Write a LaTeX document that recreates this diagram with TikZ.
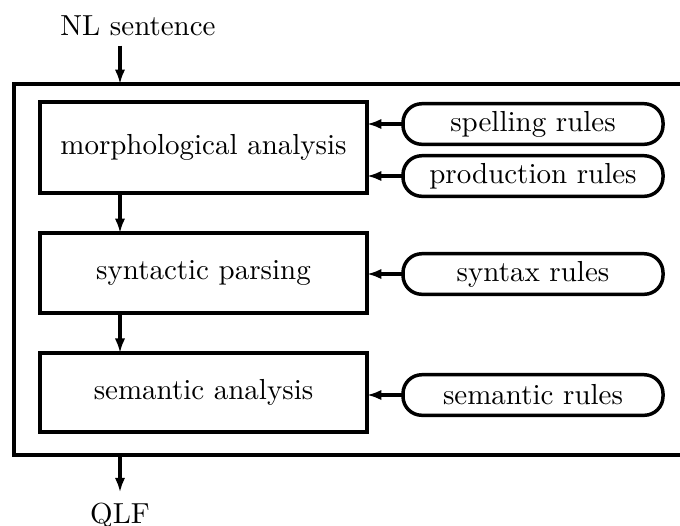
\documentclass[tikz,border=0pt]{standalone}
\usetikzlibrary{arrows.meta}
\usetikzlibrary{calc}

\tikzset{
    etape/.style={draw, line width=1.2pt, inner sep=0pt, outer sep=0pt,
        minimum width=112.8pt},
    regles/.style={draw, line width=1.2pt, rounded corners=6.5pt, inner sep=0pt,
        outer sep=0pt, minimum width=89.7pt, minimum height=14pt},
    fleche/.style={line width=1.2pt, -{Latex[length=5pt,width=3.6pt]}}
}

\begin{document}
\begin{tikzpicture}[x=0.345pt, y=-0.345pt]
            \useasboundingbox (0,0) rectangle (680,525);
            \coordinate (entree) at (120,84);
            \coordinate (sortie) at (120,455);
            \draw[line width=1.2pt] (14,84) rectangle (700,455);
            \node[anchor=base] (nl) at (138,35) {NL sentence};
            \node[anchor=base] (qlf) at (120,523) {QLF};
            \node[etape, minimum height=31.4pt] (morph) at (203.5,147.5) {morphological analysis};
            \node[etape, minimum height=27.6pt] (synt) at (203.5,273) {syntactic parsing};
            \node[etape, minimum height=27.3pt] (sema) at (203.5,392.5) {semantic analysis};
            \node[regles] (spell) at (533,124) {spelling rules};
            \node[regles] (prod) at (533,176) {production rules};
            \node[regles] (syntax) at (533,274) {syntax rules};
            \node[regles] (semr) at (533,395) {semantic rules};
            \draw[fleche] (nl.south -| entree) -- (entree);
            \draw[fleche] (morph.south -| entree) -- (synt.north -| entree);
            \draw[fleche] (synt.south -| entree) -- (sema.north -| entree);
            \draw[fleche] (sortie) -- (qlf.north);
            \draw[fleche] (spell.west) -- (spell.west -| morph.east);
            \draw[fleche] (prod.west) -- (prod.west -| morph.east);
            \draw[fleche] (syntax.west) -- (syntax.west -| synt.east);
            \draw[fleche] (semr.west) -- (semr.west -| sema.east);
        \end{tikzpicture}
\end{document}
